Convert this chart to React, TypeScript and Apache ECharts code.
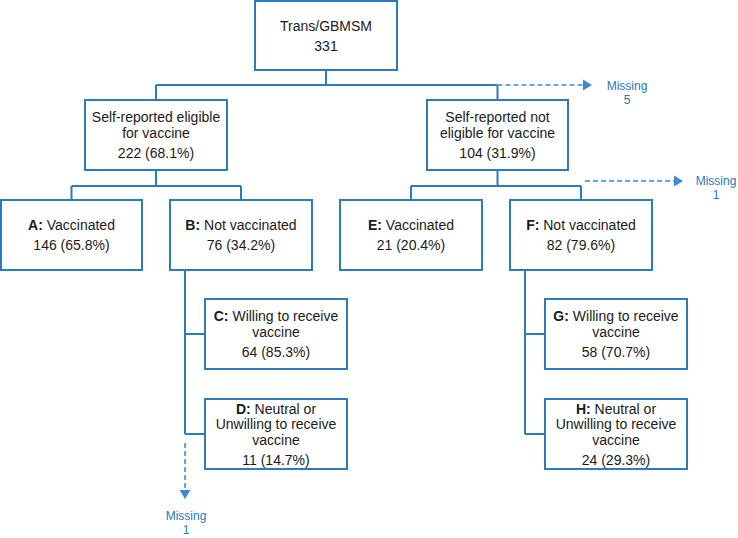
import React, { useEffect, useRef } from "react";
import * as echarts from "echarts";

// ---- data ----
const nodeIds = ["root", "elig", "notElig", "A", "B", "C", "D", "E", "F", "G", "H"];
const nodePrefixes = ["", "", "", "A:", "B:", "C:", "D:", "E:", "F:", "G:", "H:"];
const nodeLabels = [
  "Trans/GBMSM",
  "Self-reported eligible\nfor vaccine",
  "Self-reported not\neligible for vaccine",
  "Vaccinated",
  "Not vaccinated",
  "Willing to receive\nvaccine",
  "Neutral or\nUnwilling to receive\nvaccine",
  "Vaccinated",
  "Not vaccinated",
  "Willing to receive\nvaccine",
  "Neutral or\nUnwilling to receive\nvaccine",
];
const nodeCounts = [331, 222, 104, 146, 76, 64, 11, 21, 82, 58, 24];
const nodePercents = [null, 68.1, 31.9, 65.8, 34.2, 85.3, 14.7, 20.4, 79.6, 70.7, 29.3];
const missingLabels = ["Missing", "Missing", "Missing"];
const missingCounts = [5, 1, 1];

// ---- layout (positions / sizes only) ----
const layout: Record<string, [number, number, number, number]> = {
  root: [255, 1, 142, 69],
  elig: [85, 100, 142, 70],
  notElig: [427, 100, 141, 70],
  A: [1, 200, 141, 70],
  B: [170, 200, 142, 70],
  E: [340, 200, 142, 70],
  F: [510, 200, 142, 70],
  C: [205, 299, 142, 70],
  D: [205, 399, 142, 70],
  G: [545, 299, 142, 70],
  H: [545, 399, 142, 70],
};

const BLUE = "#2c7bbd";
const DASH = "#3a8bd2";
const MISS_TXT = "#2a78b8";
const FONT = "'Liberation Sans', Arial, Helvetica, sans-serif";

function box(id: string) {
  const [x, y, w, h] = layout[id];
  return { x, y, w, h, cx: x + w / 2, cy: y + h / 2, bottom: y + h };
}

export default function App() {
  const ref = useRef<HTMLDivElement>(null);
  useEffect(() => {
    if (!ref.current) return;
    const chart = echarts.init(ref.current, undefined, { renderer: "svg" });
    const els: any[] = [];
    const line = (x1: number, y1: number, x2: number, y2: number) =>
      els.push({ type: "line", shape: { x1, y1, x2, y2 }, style: { stroke: BLUE, lineWidth: 2 } });
    const dashed = (x1: number, y1: number, x2: number, y2: number) =>
      els.push({
        type: "line",
        shape: { x1, y1, x2, y2 },
        style: { stroke: DASH, lineWidth: 1.5, lineDash: [5, 3] },
      });
    const arrow = (pts: number[][]) =>
      els.push({ type: "polygon", shape: { points: pts }, style: { fill: DASH } });
    const missTxt = (i: number, cx: number, cy: number) => {
      els.push({
        type: "text",
        style: {
          text: missingLabels[i],
          x: cx,
          y: cy,
          align: "center",
          verticalAlign: "middle",
          font: `12px ${FONT}`,
          fill: MISS_TXT,
        },
      });
      els.push({
        type: "text",
        style: {
          text: String(missingCounts[i]),
          x: cx,
          y: cy + 14,
          align: "center",
          verticalAlign: "middle",
          font: `12px ${FONT}`,
          fill: MISS_TXT,
        },
      });
    };

    // boxes and texts
    nodeIds.forEach((id, i) => {
      const b = box(id);
      els.push({
        type: "rect",
        shape: { x: b.x, y: b.y, width: b.w, height: b.h },
        style: { fill: "#fff", stroke: BLUE, lineWidth: 2 },
      });
      const lines = nodeLabels[i].split("\n");
      const lh = 15.5;
      const gap = 20;
      const first = b.cy - ((lines.length - 1) * lh + gap) / 2;
      lines.forEach((ln, k) => {
        const txt = k === 0 && nodePrefixes[i] ? `{b|${nodePrefixes[i]}} ${ln}` : ln;
        els.push({
          type: "text",
          style: {
            text: txt,
            x: b.cx,
            y: first + k * lh,
            align: "center",
            verticalAlign: "middle",
            font: `14px ${FONT}`,
            fontSize: 14,
            fontFamily: FONT,
            fill: "#1a1a1a",
            rich: {
              b: { fontWeight: "bold", fontSize: 14, fontFamily: FONT, fill: "#1a1a1a", color: "#1a1a1a" },
            },
          },
        });
      });
      const p = nodePercents[i];
      els.push({
        type: "text",
        style: {
          text: p == null ? String(nodeCounts[i]) : `${nodeCounts[i]} (${p.toFixed(1)}%)`,
          x: b.cx,
          y: first + (lines.length - 1) * lh + gap,
          align: "center",
          verticalAlign: "middle",
          font: `14px ${FONT}`,
          fill: "#1a1a1a",
        },
      });
    });

    // connectors: root -> level 1
    const r = box("root"), e = box("elig"), n = box("notElig");
    const y1 = 85;
    line(r.cx, r.bottom, r.cx, y1);
    line(e.cx, y1, n.cx, y1);
    line(e.cx, y1, e.cx, e.y);
    line(n.cx, y1, n.cx, n.y);

    // level 1 -> level 2
    const pairs: [string, string, string][] = [["elig", "A", "B"], ["notElig", "E", "F"]];
    pairs.forEach(([p, a, c]) => {
      const P = box(p), Aa = box(a), C = box(c);
      const yy = 186;
      line(P.cx, P.bottom, P.cx, yy);
      line(Aa.cx, yy, C.cx, yy);
      line(Aa.cx, yy, Aa.cx, Aa.y);
      line(C.cx, yy, C.cx, C.y);
    });

    // level 2 -> level 3 (side spine)
    const spines: [string, string, string, number][] = [["B", "C", "D", 185], ["F", "G", "H", 525]];
    spines.forEach(([p, a, c, sx]) => {
      const P = box(p), Aa = box(a), C = box(c);
      line(sx, P.bottom, sx, C.cy);
      line(sx, Aa.cy, Aa.x, Aa.cy);
      line(sx, C.cy, C.x, C.cy);
    });

    // missing arrows
    dashed(n.cx, y1, 584, y1);
    arrow([[583, y1 - 5.5], [592, y1], [583, y1 + 5.5]]);
    missTxt(0, 627, 86);

    dashed(585, 181, 675, 181);
    arrow([[674, 175.5], [683, 181], [674, 186.5]]);
    missTxt(1, 716, 181);

    dashed(185, 443, 185, 491);
    arrow([[179.5, 490], [185, 499], [190.5, 490]]);
    missTxt(2, 186, 516);

    chart.setOption({ animation: false, graphic: { elements: els } });
    return () => chart.dispose();
  }, []);
  return (
    <div
      ref={ref}
      style={{ position: "fixed", left: 0, top: 0, width: 738, height: 538, background: "#fff" }}
    />
  );
}
